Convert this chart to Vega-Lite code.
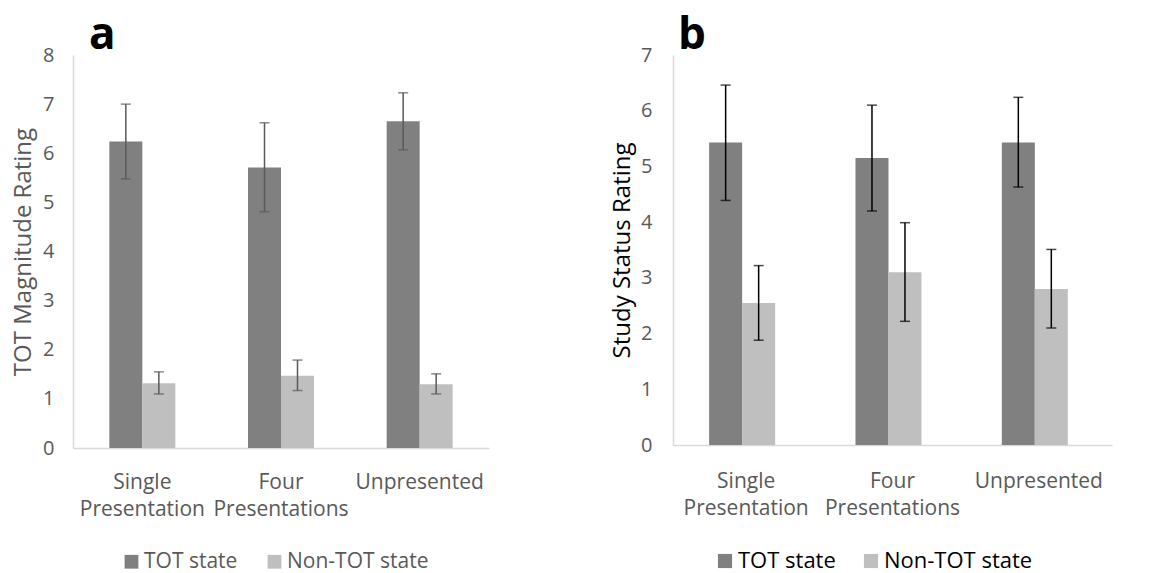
{
  "$schema": "https://vega.github.io/schema/vega-lite/v6.json",
  "background": "white",
  "padding": {"left": 11, "top": 14, "right": 5, "bottom": 0},
  "spacing": 121,
  "config": {
    "view": {"stroke": null},
    "font": "Open Sans",
    "axis": {"domainColor": "#d9d9d9", "domainWidth": 1.5, "ticks": false, "grid": false, "labelColor": "#595959", "labelFont": "Open Sans", "titleFont": "Open Sans", "titleFontWeight": "normal", "labelFontSize": 20, "titleFontSize": 24, "labelOverlap": false},
    "legend": {"labelFont": "Open Sans", "padding": 0}
  },
  "datasets": {
    "a": [
      {"cond": "Single Presentation", "state": "TOT state", "mean": 6.24, "lo": 5.48, "hi": 7.0},
      {"cond": "Single Presentation", "state": "Non-TOT state", "mean": 1.32, "lo": 1.1, "hi": 1.55},
      {"cond": "Four Presentations", "state": "TOT state", "mean": 5.71, "lo": 4.81, "hi": 6.62},
      {"cond": "Four Presentations", "state": "Non-TOT state", "mean": 1.47, "lo": 1.17, "hi": 1.79},
      {"cond": "Unpresented", "state": "TOT state", "mean": 6.65, "lo": 6.07, "hi": 7.23},
      {"cond": "Unpresented", "state": "Non-TOT state", "mean": 1.3, "lo": 1.1, "hi": 1.51}
    ],
    "b": [
      {"cond": "Single Presentation", "state": "TOT state", "mean": 5.43, "lo": 4.39, "hi": 6.46},
      {"cond": "Single Presentation", "state": "Non-TOT state", "mean": 2.55, "lo": 1.88, "hi": 3.22},
      {"cond": "Four Presentations", "state": "TOT state", "mean": 5.15, "lo": 4.2, "hi": 6.1},
      {"cond": "Four Presentations", "state": "Non-TOT state", "mean": 3.1, "lo": 2.22, "hi": 3.99},
      {"cond": "Unpresented", "state": "TOT state", "mean": 5.43, "lo": 4.63, "hi": 6.24},
      {"cond": "Unpresented", "state": "Non-TOT state", "mean": 2.8, "lo": 2.1, "hi": 3.51}
    ]
  },
  "resolve": {"scale": {"y": "independent", "color": "independent", "x": "independent"}, "legend": {"color": "independent"}},
  "hconcat": [
    {
      "width": 416,
      "height": 393,
      "data": {"name": "a"},
      "title": {"text": "a", "anchor": "start", "frame": "group", "fontSize": 44, "fontWeight": "bold", "font": "Open Sans", "color": "black", "dx": 16, "offset": -13},
      "encoding": {
        "x": {"field": "cond", "type": "nominal", "sort": null, "scale": {"paddingInner": 0.524, "paddingOuter": 0.262},
          "axis": {"title": null, "labelAngle": 0, "labelExpr": "split(datum.label, ' ')", "labelPadding": 40, "labelLineHeight": 27, "labelBaseline": "alphabetic", "labelColor": "#595959", "labelFontSize": 21}},
        "xOffset": {"field": "state", "type": "nominal", "sort": ["TOT state", "Non-TOT state"], "scale": {"paddingInner": 0, "paddingOuter": 0}}
      },
      "layer": [
        {
          "mark": {"type": "bar"},
          "encoding": {
            "y": {"field": "mean", "type": "quantitative", "scale": {"domain": [0, 8], "nice": false}, "axis": {"title": "TOT Magnitude Rating", "values": [0,1,2,3,4,5,6,7,8], "format": "d", "labelPadding": 19, "titlePadding": 7, "titleColor": "#595959"}},
            "color": {"field": "state", "type": "nominal", "sort": ["TOT state", "Non-TOT state"], "scale": {"domain": ["TOT state", "Non-TOT state"], "range": ["#808080", "#bfbfbf"]},
              "legend": {"title": null, "orient": "none", "direction": "horizontal", "legendX": 48, "legendY": 496, "symbolType": "square", "symbolSize": 190, "symbolStrokeWidth": 0, "labelFontSize": 21, "labelColor": "#595959", "labelOffset": 2, "columnPadding": 26}}
          }
        },
        {
          "mark": {"type": "rule", "color": "#595959", "strokeWidth": 1.5},
          "encoding": {"y": {"field": "lo", "type": "quantitative"}, "y2": {"field": "hi"}}
        },
        {
          "mark": {"type": "tick", "color": "#595959", "thickness": 1.5, "size": 10},
          "encoding": {"y": {"field": "lo", "type": "quantitative"}}
        },
        {
          "mark": {"type": "tick", "color": "#595959", "thickness": 1.5, "size": 10},
          "encoding": {"y": {"field": "hi", "type": "quantitative"}}
        }
      ]
    },
    {
      "width": 439,
      "height": 390,
      "data": {"name": "b"},
      "title": {"text": "b", "anchor": "start", "frame": "group", "fontSize": 44, "fontWeight": "bold", "font": "Open Sans", "color": "black", "dx": 5, "offset": -13},
      "encoding": {
        "x": {"field": "cond", "type": "nominal", "sort": null, "scale": {"paddingInner": 0.494, "paddingOuter": 0.247},
          "axis": {"title": null, "labelAngle": 0, "labelExpr": "split(datum.label, ' ')", "labelPadding": 42, "labelLineHeight": 27, "labelBaseline": "alphabetic", "labelColor": "#595959", "labelFontSize": 21}},
        "xOffset": {"field": "state", "type": "nominal", "sort": ["TOT state", "Non-TOT state"], "scale": {"paddingInner": 0, "paddingOuter": 0}}
      },
      "layer": [
        {
          "mark": {"type": "bar"},
          "encoding": {
            "y": {"field": "mean", "type": "quantitative", "scale": {"domain": [0, 7], "nice": false}, "axis": {"title": "Study Status Rating", "values": [0,1,2,3,4,5,6,7], "format": "d", "labelPadding": 21, "titlePadding": 6, "titleColor": "black"}},
            "color": {"field": "state", "type": "nominal", "sort": ["TOT state", "Non-TOT state"], "scale": {"domain": ["TOT state", "Non-TOT state"], "range": ["#808080", "#bfbfbf"]},
              "legend": {"title": null, "orient": "none", "direction": "horizontal", "legendX": 41, "legendY": 495, "symbolType": "square", "symbolSize": 200, "symbolStrokeWidth": 0, "labelFontSize": 22, "labelColor": "black", "labelOffset": 2, "columnPadding": 24}}
          }
        },
        {
          "mark": {"type": "rule", "color": "black", "strokeWidth": 1.5},
          "encoding": {"y": {"field": "lo", "type": "quantitative"}, "y2": {"field": "hi"}}
        },
        {
          "mark": {"type": "tick", "color": "black", "thickness": 1.5, "size": 10},
          "encoding": {"y": {"field": "lo", "type": "quantitative"}}
        },
        {
          "mark": {"type": "tick", "color": "black", "thickness": 1.5, "size": 10},
          "encoding": {"y": {"field": "hi", "type": "quantitative"}}
        }
      ]
    }
  ]
}
